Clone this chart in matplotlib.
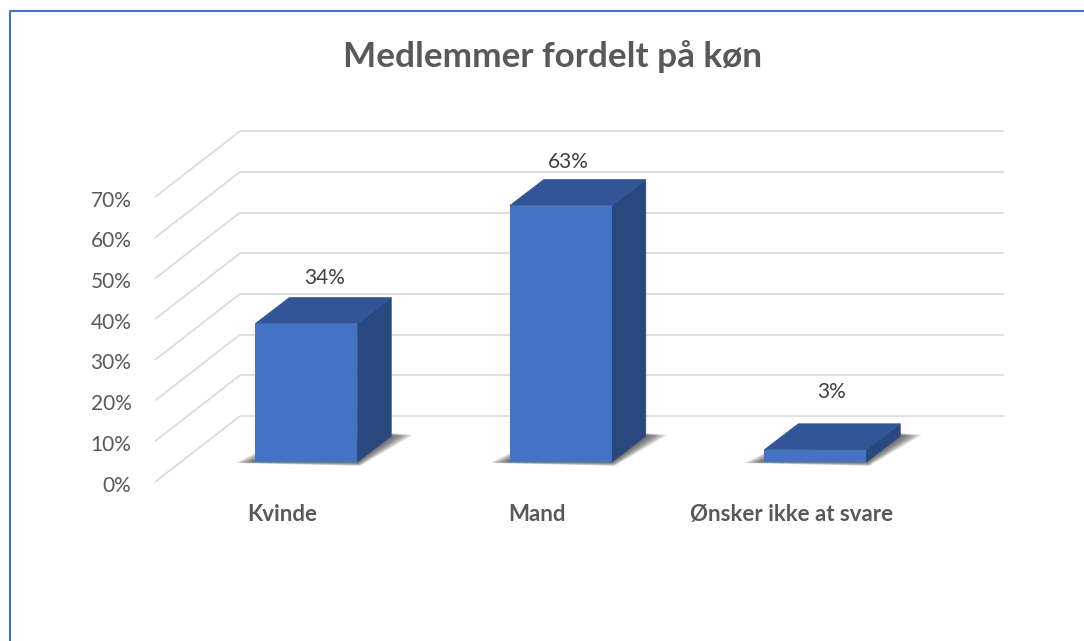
import matplotlib
matplotlib.use('Agg')
import matplotlib.pyplot as plt
from matplotlib.lines import Line2D
from matplotlib.patches import Polygon
from matplotlib.transforms import ScaledTranslation

title = 'Medlemmer fordelt på køn'
categories = ['Kvinde', 'Mand', 'Ønsker ikke at svare']
values = [34, 63, 3]
data_labels = ['34%', '63%', '3%']
y_ticks = [0, 10, 20, 30, 40, 50, 60, 70]

W, H = 1084, 641
px_x = 254.5        # pixels per category
px_y = 4.07         # pixels per percent

blue_front = '#4472C4'
blue_top = '#325597'
blue_side = '#2A4880'
grey_grid = '#D9D9D9'
grey_text = '#595959'

plt.rcParams['font.family'] = ['Lato', 'DejaVu Sans']

fig = plt.figure(figsize=(W / 100, H / 100), dpi=100)
fig.patch.set_facecolor('white')

# axes = front plane of the fake 3d box
left, right, bottom = 155, 155 + 3 * px_x, 482
ax = fig.add_axes([left / W, 1 - bottom / H, (right - left) / W, 70 * px_y / H])
ax.set_xlim(-0.5, 2.5)
ax.set_ylim(0, 70)
for s in ax.spines.values():
    s.set_visible(False)

# depth vectors in data units
wall_dx, wall_dy = 85 / px_x, 66 / px_y
bar_off_x, bar_off_y = 24 / px_x, 20 / px_y
bar_dx, bar_dy = 34 / px_x, 26 / px_y
bar_w = 102 / px_x

for v in y_ticks:
    ax.plot([-0.5, -0.5 + wall_dx], [v, v + wall_dy], color=grey_grid, lw=1.2,
            clip_on=False, zorder=1, solid_capstyle='butt')
    ax.plot([-0.5 + wall_dx, 2.5 + wall_dx], [v + wall_dy, v + wall_dy], color=grey_grid, lw=1.2,
            clip_on=False, zorder=1, solid_capstyle='butt')

# data label offsets from the top of each bar, in pixels
label_dx = [18, 8, 16]
label_dy = [46, 44, 58]
for i, v in enumerate(values):
    xl = i - bar_w / 2 + bar_off_x
    xr = xl + bar_w
    base = bar_off_y
    top = base + v

    # soft shadow on the floor
    outer = [(xl - 20 / px_x, base - 1 / px_y), (xr + 3 / px_x, base - 4 / px_y),
             (xr + bar_dx + 22 / px_x, base + bar_dy + 1 / px_y),
             (xr + bar_dx, base + bar_dy + 3 / px_y), (xl, base + 9 / px_y)]
    inner = [(xl, base), (xr, base), (xr + bar_dx, base + bar_dy), (xr + bar_dx, base + bar_dy), (xl, base)]
    for k in range(1, 17):
        t = k / 16
        pts = [(a[0] * t + b[0] * (1 - t), a[1] * t + b[1] * (1 - t)) for a, b in zip(outer, inner)]
        ax.add_patch(Polygon(pts, closed=True, fc='#404040', ec='none', alpha=0.08, clip_on=False, zorder=2))

    ax.add_patch(Polygon([(xr, base), (xr + bar_dx, base + bar_dy), (xr + bar_dx, top + bar_dy), (xr, top)],
                         closed=True, fc=blue_side, ec=blue_side, lw=0.5, clip_on=False, zorder=3))
    ax.add_patch(Polygon([(xl, top), (xr, top), (xr + bar_dx, top + bar_dy), (xl + bar_dx, top + bar_dy)],
                         closed=True, fc=blue_top, ec=blue_top, lw=0.5, clip_on=False, zorder=3))
    ax.bar(i + bar_off_x, v, width=bar_w, bottom=base, color=blue_front, clip_on=False, zorder=4)

    ax.annotate(data_labels[i], (i + bar_off_x, top), xytext=(label_dx[i] * 0.72, label_dy[i] * 0.72),
                textcoords='offset points', ha='center', va='center', fontsize=15, color='#404040',
                annotation_clip=False)

ax.set_yticks(y_ticks)
ax.set_yticklabels([f'{v}%' for v in y_ticks], fontsize=15, color=grey_text)
ax.tick_params(axis='y', length=0, pad=17)
# tick text sits a little lower in the picture
shift = ScaledTranslation(0, -1.5 / 100, fig.dpi_scale_trans)
for lbl in ax.get_yticklabels():
    lbl.set_transform(lbl.get_transform() + shift)

ax.set_xticks([0, 1, 2])
ax.set_xticklabels(categories, fontsize=16, fontweight='bold', color=grey_text)
ax.tick_params(axis='x', length=0, pad=16)

fig.suptitle(title, x=553 / W, y=1 - 57 / H, va='center', ha='center', fontsize=25.3,
             fontweight='bold', color=grey_text)

# only the top and left of the chart frame are in the crop
fig.add_artist(Line2D([9.5 / W, 9.5 / W, 1], [0, 1 - 11 / H, 1 - 11 / H], color=blue_front, lw=1.5))

fig.savefig('out.png', dpi=100)
